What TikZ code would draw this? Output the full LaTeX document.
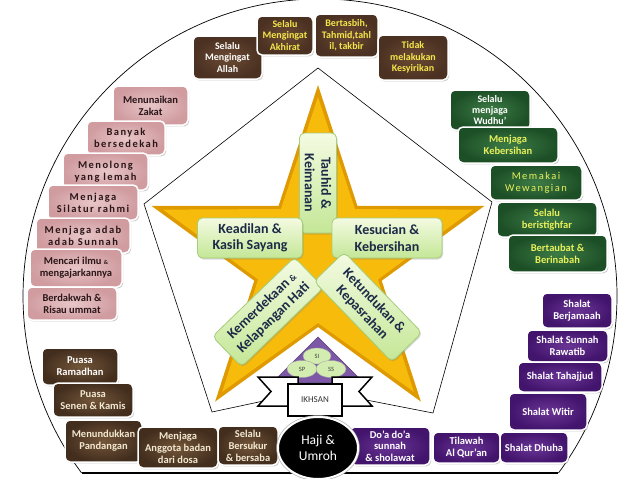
\documentclass[tikz,border=0pt]{standalone}
\usepackage{fontspec}
\setmainfont{Carlito}
\usetikzlibrary{shapes.geometric, shadows, calc}

\definecolor{wood}{HTML}{4B3122}
\definecolor{woodlt}{HTML}{6B4A33}
\definecolor{woodtxt}{HTML}{F4E64A}
\definecolor{rose}{HTML}{D09CA0}
\definecolor{roselt}{HTML}{E8C6C8}
\definecolor{rosetxt}{HTML}{2A1618}
\definecolor{marble}{HTML}{1D4F26}
\definecolor{marblelt}{HTML}{3D7C46}
\definecolor{marbletxt}{HTML}{E8F05C}
\definecolor{violet}{HTML}{42146C}
\definecolor{violetlt}{HTML}{6A3596}
\definecolor{granite}{HTML}{432E1E}
\definecolor{granitelt}{HTML}{735639}
\definecolor{granitetxt}{HTML}{F3E8D2}
\definecolor{gold}{HTML}{F7BB0C}
\definecolor{golddk}{HTML}{DE9A00}
\definecolor{leaf}{HTML}{F4FBE2}
\definecolor{leafdk}{HTML}{C4E796}
\definecolor{leafrim}{HTML}{A6CD7A}
\definecolor{navy}{HTML}{1C2A48}
\definecolor{lilac}{HTML}{7C58A6}

\begin{document}
\begin{tikzpicture}[
  x=1pt, y=-1pt,
  tile/.style={rounded corners=5pt, draw=white, line width=1.5pt, align=center, inner sep=1pt,
    drop shadow={shadow xshift=1.2pt, shadow yshift=-1.4pt, opacity=0.4}},
  woodtile/.style={tile, inner color=woodlt, outer color=wood, text=woodtxt,
    font=\fontsize{10}{11.5}\selectfont\bfseries},
  rosetile/.style={tile, inner color=roselt, outer color=rose, text=rosetxt,
    font=\fontsize{10.5}{12}\selectfont\bfseries\addfontfeatures{LetterSpace=14}},
  marbletile/.style={tile, inner color=marblelt, outer color=marble, text=marbletxt,
    font=\fontsize{10.5}{12}\selectfont\bfseries},
  violettile/.style={tile, inner color=violetlt, outer color=violet, text=white,
    font=\fontsize{10.5}{12}\selectfont\bfseries},
  granitetile/.style={tile, inner color=granitelt, outer color=granite, text=granitetxt,
    font=\fontsize{10.5}{12}\selectfont\bfseries},
  leafbox/.style={rounded corners=5pt, draw=leafrim, line width=0.8pt, top color=leaf,
    bottom color=leafdk, text=navy, align=center, inner sep=1pt,
    font=\fontsize{14}{16.5}\selectfont\bfseries,
    drop shadow={shadow xshift=1pt, shadow yshift=-1.5pt, opacity=0.3}},
  pill/.style={ellipse, draw=gray!70, fill=leafdk!75!white, inner sep=0pt,
    font=\fontsize{6.5}{7}\selectfont, text=black!75},
  ribbon/.style={fill=white, draw=black, line width=1.5pt}
  ]
  \useasboundingbox (0,0) rectangle (640,479);
  \fill[white] (0,0) rectangle (640,479);

  % outer dome
  \coordinate (arcL) at (81.6,473);
  \coordinate (arcR) at (558.4,473);
  \draw[line width=0.7pt] (arcL) arc[start angle=143.4, end angle=396.6, radius=297];
  \draw[line width=2pt] (arcL) -- (arcR);

  % pentagon
  \coordinate (pT)  at (318,68);
  \coordinate (pR)  at (492,202);
  \coordinate (pBR) at (433,413);
  \coordinate (pB)  at (315,390);
  \coordinate (pBL) at (212,412);
  \coordinate (pL)  at (144,204);
  \draw[line width=0.6pt] (pT) -- (pR) -- (pBR) -- (pB) -- (pBL) -- (pL) -- cycle;

  % star
  \begin{scope}[shift={(318,260)}]
    \fill[golddk] (-90:175) -- (-54:67) -- (-18:175) -- (18:67) -- (54:175) -- (90:67)
      -- (126:175) -- (162:67) -- (198:175) -- (234:67) -- cycle;
    \fill[gold] (-90:163) -- (-54:63) -- (-18:163) -- (18:63) -- (54:163) -- (90:63)
      -- (126:163) -- (162:63) -- (198:163) -- (234:63) -- cycle;
  \end{scope}

  \node[leafbox, rotate=-90, minimum width=100, minimum height=37] (tauhid) at (318,183) {Tauhid \&\\Keimanan};
  \node[leafbox, minimum width=105, minimum height=40] (adil) at (250,238) {Keadilan \&\\Kasih Sayang};
  \node[leafbox, minimum width=110, minimum height=40] (suci) at (387,238) {Kesucian \&\\Kebersihan};
  \node[leafbox, rotate=44, minimum width=114, minimum height=42] (merdeka) at (268,312)
    {Kemerdekaan {\fontsize{9}{9}\selectfont\&}\\Kelapangan Hati};
  \node[leafbox, rotate=-46, minimum width=112, minimum height=42] (tunduk) at (368,307)
    {Ketundukan \&\\Kepasrahan};

  % triangle with SI, SP, SS
  \filldraw[fill=lilac, draw=lilac!70!black, line width=0.6pt] (318,337) -- (364,383) -- (272,383) -- cycle;
  \node[pill, minimum width=28, minimum height=16] (si) at (317,356) {SI};
  \node[pill, minimum width=30, minimum height=17] (sp) at (302,369) {SP};
  \node[pill, minimum width=30, minimum height=17] (ss) at (331,369) {SS};

  % ribbon
  \filldraw[ribbon] (258,377) -- (298,377) -- (298,406) -- (258,406) -- (271,391.5) -- cycle;
  \filldraw[ribbon] (372,377) -- (332,377) -- (332,406) -- (372,406) -- (359,391.5) -- cycle;
  \node[ribbon, minimum width=54, minimum height=32, inner sep=0pt,
    font=\fontsize{9}{10}\selectfont, text=black!80] (ikhsan) at (315,400) {IKHSAN};

  % top row
  \node[woodtile, text=white, minimum width=69, minimum height=43] (allah) at (227.5,57.5) {Selalu\\Mengingat\\Allah};
  \node[woodtile, minimum width=56, minimum height=39] (akhirat) at (285,35.5) {Selalu\\Mengingat\\Akhirat};
  \node[woodtile, minimum width=63, minimum height=43] (tasbih) at (346.5,35.5) {Bertasbih,\\Tahmid,tahl\\il, takbir};
  \node[woodtile, minimum width=70, minimum height=45] (syirik) at (413,57.5) {Tidak\\melakukan\\Kesyirikan};

  % left side
  \node[rosetile, font=\fontsize{10.5}{12}\selectfont\bfseries, minimum width=75, minimum height=39] (zakat) at (150.5,105.5) {Menunaikan\\Zakat};
  \node[rosetile, minimum width=78, minimum height=34] (sedekah) at (126,138) {Banyak\\bersedekah};
  \node[rosetile, minimum width=85, minimum height=37] (tolong) at (105.5,171.5) {Menolong\\yang lemah};
  \node[rosetile, minimum width=90, minimum height=35] (silatur) at (93,202.5) {Menjaga\\Silatur rahmi};
  \node[rosetile, minimum width=94, minimum height=35] (adab) at (83,235.5) {Menjaga adab\\adab Sunnah};
  \node[rosetile, font=\fontsize{10.5}{12}\selectfont\bfseries, minimum width=92, minimum height=38] (ilmu) at (76,268)
    {Mencari ilmu {\fontsize{6}{6}\selectfont\&}\\mengajarkannya};
  \node[rosetile, font=\fontsize{10.5}{12}\selectfont\bfseries, minimum width=90, minimum height=33] (dakwah) at (72,303.5) {Berdakwah \&\\Risau ummat};

  % right side
  \node[marbletile, text=white, font=\fontsize{10}{11}\selectfont\bfseries, minimum width=80, minimum height=40] (wudhu) at (490,110) {Selalu\\menjaga\\Wudhu’};
  \node[marbletile, minimum width=100, minimum height=36] (bersih) at (508,145) {Menjaga\\Kebersihan};
  \node[marbletile, font=\fontsize{10.5}{12}\selectfont\addfontfeatures{LetterSpace=14}, minimum width=92, minimum height=35] (wangi) at (536,182.5) {Memakai\\Wewangian};
  \node[marbletile, minimum width=100, minimum height=35] (istighfar) at (547,219.5) {Selalu\\beristighfar};
  \node[marbletile, minimum width=99, minimum height=37] (taubat) at (557.5,253.5) {Bertaubat \&\\Berinabah};

  % prayers
  \node[violettile, minimum width=70, minimum height=35] (jamaah) at (577,310.5) {Shalat\\Berjamaah};
  \node[violettile, minimum width=81, minimum height=32] (rawatib) at (567.5,346) {Shalat Sunnah\\Rawatib};
  \node[violettile, minimum width=84, minimum height=30] (tahajjud) at (560,377) {Shalat Tahajjud};
  \node[violettile, minimum width=78, minimum height=37] (witir) at (548,411.5) {Shalat Witir};
  \node[violettile, minimum width=67, minimum height=31] (tilawah) at (466.5,447.5) {Tilawah\\Al Qur’an};
  \node[violettile, minimum width=68, minimum height=31] (dhuha) at (534,447.5) {Shalat Dhuha};
  \node[violettile, font=\fontsize{10.5}{11.5}\selectfont\bfseries, minimum width=80, minimum height=38] (doa) at (390,446) {Do’a do’a\\sunnah\\\& sholawat};

  % bottom left
  \node[granitetile, text=white, minimum width=76, minimum height=37] (ramadhan) at (80,366.5) {Puasa\\Ramadhan};
  \node[granitetile, minimum width=80, minimum height=34] (senen) at (93,400) {Puasa\\Senen \& Kamis};
  \node[granitetile, minimum width=77, minimum height=42] (pandang) at (103.5,441) {Menundukkan\\Pandangan};
  \node[granitetile, minimum width=80, minimum height=41] (anggota) at (178,447.5) {Menjaga\\Anggota badan\\dari dosa};
  \node[granitetile, minimum width=60, minimum height=39] (syukur) at (248,445.5) {Selalu\\Bersukur\\\& bersaba};

  % centre
  \node[ellipse, fill=black, draw=white, line width=2pt, preaction={draw=gray!60, line width=3.4pt},
    minimum width=80, minimum height=62, text=white, align=center,
    font=\fontsize{13.5}{15.5}\selectfont] (haji) at (318,448) {Haji \&\\Umroh};
\end{tikzpicture}
\end{document}
